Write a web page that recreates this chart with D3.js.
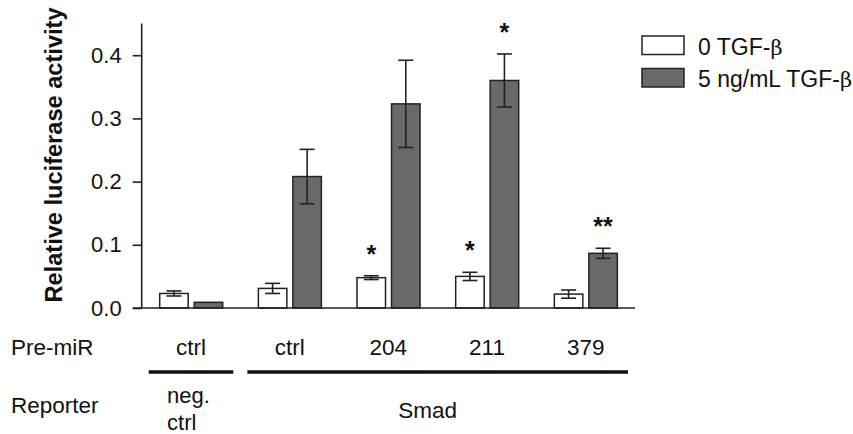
<!DOCTYPE html>
<html>
<head>
    <script src="https://cdnjs.cloudflare.com/ajax/libs/d3/7.8.5/d3.min.js"></script>
    <style>
        body { margin: 0; background: #fff; }
        text { font-family: "Liberation Sans", Arial, sans-serif; fill: #111; }
    </style>
</head>
<body>
    <svg id="chart" width="853" height="434"></svg>
    <script>
        // values
        var preMiR = ["ctrl", "ctrl", "204", "211", "379"]
        var noTgf = [0.023, 0.031, 0.048, 0.050, 0.022]
        var noTgfErr = [0.004, 0.008, 0.003, 0.0065, 0.0065]
        var withTgf = [0.009, 0.208, 0.323, 0.360, 0.0865]
        var withTgfErr = [0, 0.043, 0.069, 0.042, 0.008]
        var noTgfStars = ["", "", "*", "*", ""]
        var withTgfStars = ["", "", "", "*", "**"]
        var seriesNames = ["0 TGF-", "5 ng/mL TGF-"]
        var reporters = [["neg.", "ctrl"], ["Smad"]]
        var reporterSpans = [[0, 0], [1, 4]]
        var yTicks = [0, 0.1, 0.2, 0.3, 0.4]

        var fills = ["#ffffff", "#696969"]
        var svg = d3.select("#chart")

        var x0 = d3.scaleBand()
            .domain(d3.range(preMiR.length))
            .range([141.7, 635])

        var x1 = d3.scaleBand()
            .domain([0, 1])
            .range([18, 81])
            .paddingInner(0.174)

        var y = d3.scaleLinear()
            .domain([0, 0.45])
            .range([308, 23.6])

        var rows = preMiR.map((c, i) => [
            { i: i, s: 0, v: noTgf[i], e: noTgfErr[i], star: noTgfStars[i] },
            { i: i, s: 1, v: withTgf[i], e: withTgfErr[i], star: withTgfStars[i] }
        ])
        var bars = rows.flat()

        // y axis
        var yAxis = svg.append("g")
            .attr("transform", "translate(141.7,0)")
            .call(d3.axisLeft(y).tickValues(yTicks).tickFormat(d3.format(".1f")).tickSize(9).tickPadding(11))
        yAxis.select(".domain").attr("d", `M0,${y(0.45)}V${y(0)}`).style("stroke", "#222").style("stroke-width", "1.6px")
        yAxis.selectAll(".tick line").style("stroke", "#222").style("stroke-width", "1.6px")
        yAxis.selectAll(".tick text")
            .style("font-size", "22px")
            .style("font-family", "'Liberation Sans', Arial, sans-serif")
            .style("fill", "#111")

        svg.append("text")
            .attr("transform", `translate(61.5,155) rotate(-90)`)
            .attr("text-anchor", "middle")
            .style("font-size", "23.6px")
            .style("font-weight", "bold")
            .text("Relative luciferase activity")

        // bars
        var barG = svg.append("g")
        barG.selectAll("rect")
            .data(bars)
            .enter().append("rect")
            .attr("x", d => x0(d.i) + x1(d.s))
            .attr("y", d => y(d.v))
            .attr("width", x1.bandwidth())
            .attr("height", d => y(0) - y(d.v))
            .style("fill", d => fills[d.s])
            .style("stroke", "#222")
            .style("stroke-width", "1.5px")

        // error bars
        var errG = svg.append("g")
            .selectAll("g")
            .data(bars.filter(d => d.e > 0))
            .enter().append("g")
            .attr("transform", d => `translate(${x0(d.i) + x1(d.s) + x1.bandwidth() / 2},0)`)
            .style("stroke", "#222")
            .style("stroke-width", "1.6px")
        errG.append("line")
            .attr("y1", d => y(d.v - d.e)).attr("y2", d => y(d.v + d.e))
        errG.append("line")
            .attr("x1", -7.5).attr("x2", 7.5)
            .attr("y1", d => y(d.v + d.e)).attr("y2", d => y(d.v + d.e))
        errG.append("line")
            .attr("x1", -7.5).attr("x2", 7.5)
            .attr("y1", d => y(d.v - d.e)).attr("y2", d => y(d.v - d.e))

        // significance
        svg.append("g")
            .selectAll("text")
            .data(bars.filter(d => d.star))
            .enter().append("text")
            .attr("x", d => x0(d.i) + x1(d.s) + x1.bandwidth() / 2)
            .attr("y", d => y(d.v + d.e) - 13)
            .attr("text-anchor", "middle")
            .style("font-size", "25px")
            .style("font-weight", "bold")
            .text(d => d.star)

        // x axis line
        svg.append("line")
            .attr("x1", 132.7).attr("x2", x0.range()[1])
            .attr("y1", y(0)).attr("y2", y(0))
            .style("stroke", "#222")
            .style("stroke-width", "1.6px")

        // legend
        var legend = svg.append("g")
            .selectAll("g")
            .data(seriesNames)
            .enter().append("g")
            .attr("transform", (d, i) => `translate(642,${36 + i * 32.5})`)
        legend.append("rect")
            .attr("width", 42).attr("height", 18.5)
            .style("fill", (d, i) => fills[i])
            .style("stroke", "#222")
            .style("stroke-width", "1.5px")
        var lt = legend.append("text")
            .attr("x", 56).attr("y", 18.5)
            .style("font-size", "23px")
        lt.append("tspan").text(d => d)
        lt.append("tspan").style("font-family", "'DejaVu Serif', serif").style("font-size", "21px").text("β")

        // category rows
        svg.append("text")
            .attr("x", 11).attr("y", 355)
            .style("font-size", "22.5px")
            .text("Pre-miR")
        svg.append("g")
            .selectAll("text")
            .data(preMiR)
            .enter().append("text")
            .attr("x", (d, i) => x0(i) + x0.bandwidth() / 2)
            .attr("y", 355)
            .attr("text-anchor", "middle")
            .style("font-size", "22.5px")
            .text(d => d)

        svg.append("g")
            .selectAll("line")
            .data(reporterSpans)
            .enter().append("line")
            .attr("x1", d => x0(d[0]) + 7)
            .attr("x2", d => x0(d[1]) + x0.bandwidth() - 7)
            .attr("y1", 372).attr("y2", 372)
            .style("stroke", "#111")
            .style("stroke-width", "3.5px")

        svg.append("text")
            .attr("x", 11).attr("y", 413)
            .style("font-size", "22.5px")
            .text("Reporter")

        // neg. ctrl
        svg.append("g")
            .selectAll("text")
            .data(reporters[0])
            .enter().append("text")
            .attr("x", x0(0) + x0.bandwidth() / 2 - 24)
            .attr("y", (d, i) => 403 + i * 27)
            .style("font-size", "22px")
            .text(d => d)

        svg.append("text")
            .attr("x", (x0(1) + x0(4) + x0.bandwidth()) / 2 - 10)
            .attr("y", 418)
            .attr("text-anchor", "middle")
            .style("font-size", "22.5px")
            .text(reporters[1][0])
    </script>
</body>
</html>
